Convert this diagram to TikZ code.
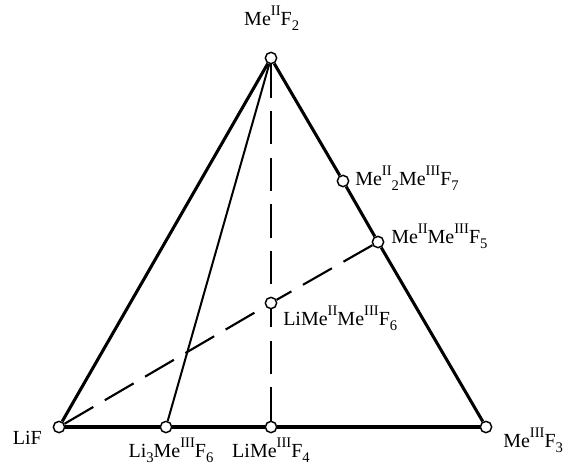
\documentclass[tikz,border=0pt]{standalone}
\usepackage{fontspec}
\setmainfont{Liberation Serif}
\usetikzlibrary{positioning}
\newcommand{\supr}[1]{\raisebox{7pt}{\fontsize{11}{11}\selectfont #1}}
\newcommand{\subr}[1]{\raisebox{-4pt}{\fontsize{11}{11}\selectfont #1}}
\tikzset{
  pt/.style={circle, draw, fill=white, line width=1.1pt, minimum size=8.5pt, inner sep=0pt},
  side/.style={line width=2.3pt},
  tie/.style={line width=1.5pt},
  tiedash/.style={line width=1.6pt, dash pattern=on 25pt off 10pt},
  lab/.style={font=\fontsize{15}{17}\selectfont, inner sep=1pt},
}
\begin{document}
\begin{tikzpicture}[x=0.75pt, y=-0.75pt]
  \useasboundingbox (0,0) rectangle (571,468);
  % corners and compounds
  \node[pt] (top) at (271,58) {};
  \node[pt] (lif) at (59,427) {};
  \node[pt] (me3) at (486,427) {};
  \node[pt] (li3) at (166,427) {};
  \node[pt] (li1) at (271,427) {};
  \node[pt] (m27) at (343,181) {};
  \node[pt] (m5) at (378,242) {};
  \node[pt] (mid) at (271,303) {};
  % triangle
  \draw[side] (top) -- (lif);
  \draw[side] (lif) -- (li3);
  \draw[side] (li3) -- (li1);
  \draw[side] (li1) -- (me3);
  \draw[side] (me3) -- (m5);
  \draw[side] (m5) -- (m27);
  \draw[side] (m27) -- (top);
  % joins inside
  \draw[tie] (top) -- (li3);
  \draw[tiedash] (top) -- (mid);
  \draw[tiedash] (li1) -- (mid);
  \draw[tiedash] (lif) -- (mid);
  \draw[tiedash] (m5) -- (mid);
  % labels
  \node[lab, anchor=base, xshift=0.5pt, yshift=24.75pt] (ltop) at (top) {Me\supr{II}F\subr{2}};
  \node[lab, anchor=base west, xshift=8pt, yshift=-3pt] (lm27) at (m27) {Me\supr{II}\subr{2}Me\supr{III}F\subr{7}};
  \node[lab, anchor=base west, xshift=8.75pt, yshift=-0.75pt] (lm5) at (m5) {Me\supr{II}Me\supr{III}F\subr{5}};
  \node[lab, anchor=base west, xshift=8pt, yshift=-16.5pt] (lmid) at (mid) {LiMe\supr{II}Me\supr{III}F\subr{6}};
  \node[lab, anchor=base east, xshift=-11.75pt, yshift=-12.75pt] (llif) at (lif) {LiF};
  \node[lab, anchor=base, xshift=3.75pt, yshift=-22.5pt] (lli3) at (li3) {Li\subr{3}Me\supr{III}F\subr{6}};
  \node[lab, anchor=base, yshift=-22.5pt] (lli1) at (li1) {LiMe\supr{III}F\subr{4}};
  \node[lab, anchor=base west, xshift=11.75pt, yshift=-15pt] (lme3) at (me3) {Me\supr{III}F\subr{3}};
\end{tikzpicture}
\end{document}
